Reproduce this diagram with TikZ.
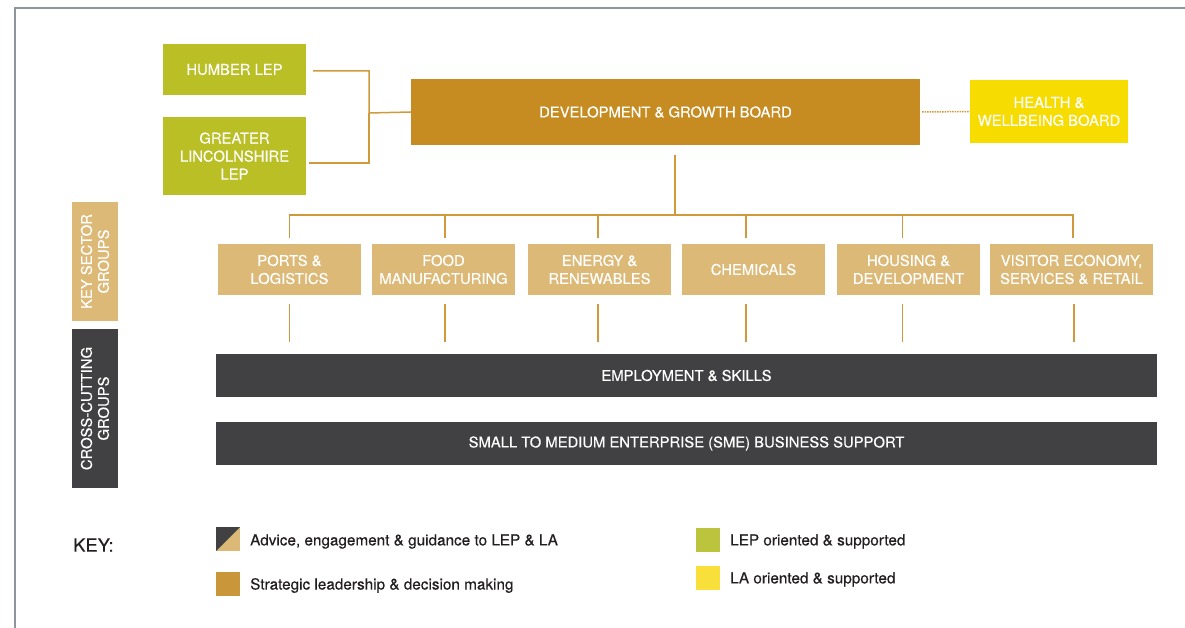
\documentclass[tikz,border=0pt]{standalone}
\usepackage{fontspec}
\setmainfont{TeX Gyre Heros}
\newfontfamily\heavyfont{TeX Gyre Heros}[FakeBold=0.35]
\definecolor{lepgreen}{HTML}{B9BF24}
\definecolor{sectortan}{HTML}{DCB977}
\definecolor{dgbgold}{HTML}{C68C22}
\definecolor{layellow}{HTML}{F7DC00}
\definecolor{darkgrey}{HTML}{414042}
\definecolor{connline}{HTML}{D09A3C}
\definecolor{framegrey}{HTML}{8E959C}
\definecolor{keytext}{HTML}{231F20}
\definecolor{keygold}{HTML}{C9973A}
\definecolor{keygreen}{HTML}{BCC33C}
\definecolor{keyyellow}{HTML}{F9DF3A}
\tikzset{
  box/.style={inner sep=0pt, align=center, text=white, font=\heavyfont\fontsize{14.8}{18}\selectfont},
  lepbox/.style={box, fill=lepgreen, minimum width=143, minimum height=51},
  sectorbox/.style={box, fill=sectortan, minimum width=143, minimum height=51},
  barbox/.style={box, fill=darkgrey, minimum width=941, minimum height=43},
  sidebox/.style={box, rotate=90, minimum height=46, font=\heavyfont\fontsize{14.8}{17}\selectfont},
  conn/.style={draw=connline, line width=1.5pt},
  dotconn/.style={draw=connline, line width=1.5pt, dash pattern=on 1.5pt off 1pt},
  keysq/.style={minimum size=24, inner sep=0pt},
  keylabel/.style={anchor=west, text=keytext, inner sep=0pt, font=\heavyfont\fontsize{15.3}{17}\selectfont}
}
\begin{document}
\begin{tikzpicture}[x=1pt,y=-1pt]
\useasboundingbox (0,0) rectangle (1185,628);
% frame
\draw[framegrey, line width=1.6pt] (1185,8) -- (15,8) -- (15,628);

% top boxes
\node[lepbox] (humber) at (234.5,69.5) {HUMBER LEP};
\node[lepbox, minimum height=78] (gl) at (234.5,156) {GREATER\\LINCOLNSHIRE\\LEP};
\node[box, fill=dgbgold, minimum width=509, minimum height=66] (dgb) at (665.5,112) {DEVELOPMENT \& GROWTH BOARD};
\node[box, fill=layellow, minimum width=158, minimum height=63] (health) at (1049,111.5) {HEALTH \&\\WELLBEING BOARD};

\coordinate (jx) at (369,113);
\draw[conn] ([xshift=7,yshift=-1.5]humber.east) -| (jx) -- (dgb.west);
\draw[conn] ([xshift=3,yshift=-7]gl.east) -| (jx);
\draw[dotconn] ([xshift=2]dgb.east) -- (health.west);

% sector boxes
\node[sectorbox] (s1) at (289.5,269.5) {PORTS \&\\LOGISTICS};
\node[sectorbox] (s2) at (443.5,269.5) {FOOD\\MANUFACTURING};
\node[sectorbox] (s3) at (599.5,269.5) {ENERGY \&\\RENEWABLES};
\node[sectorbox] (s4) at (753.5,269.5) {CHEMICALS};
\node[sectorbox] (s5) at (908.5,269.5) {HOUSING \&\\DEVELOPMENT};
\node[sectorbox, minimum width=163] (s6) at (1071.5,269.5) {VISITOR ECONOMY,\\SERVICES \& RETAIL};

% tree from board to sectors
\coordinate (bus) at (675,215);
\path (dgb.south -| bus) ++(0,10) coordinate (trunk);
\draw[conn] (trunk) -- (bus);
\draw[conn] ([yshift=6]s1.north) -- ++(0,-23) -| ([xshift=1.5,yshift=6]s6.north);
\draw[conn] ([xshift=1.5,yshift=6]s2.north) -- ++(0,-23);
\draw[conn] ([xshift=-1.5,yshift=6]s3.north) -- ++(0,-23);
\draw[conn] ([xshift=-7.5,yshift=6]s4.north) -- ++(0,-23);
\draw[conn] ([xshift=-6,yshift=6]s5.north) -- ++(0,-23);

% cross-cutting bars
\node[barbox] (emp) at (686.5,375.5) {EMPLOYMENT \& SKILLS};
\node[barbox] (sme) at (686.5,443.5) {SMALL TO MEDIUM ENTERPRISE (SME) BUSINESS SUPPORT};

% drops below sectors
\draw[conn] ([yshift=-9]s1.south) -- ++(0,38);
\draw[conn] ([xshift=1.5,yshift=-9]s2.south) -- ++(0,38);
\draw[conn] ([xshift=-1.5,yshift=-9]s3.south) -- ++(0,38);
\draw[conn] ([xshift=-7.5,yshift=-9]s4.south) -- ++(0,38);
\draw[conn] ([xshift=-6,yshift=-9]s5.south) -- ++(0,38);
\draw[conn] ([xshift=2.5,yshift=-9]s6.south) -- ++(0,38);

% side labels
\node[sidebox, fill=sectortan, minimum width=119] (keysector) at (95,261.5) {KEY SECTOR\\GROUPS};
\node[sidebox, fill=darkgrey, minimum width=159] (cross) at (95,408.5) {CROSS-CUTTING\\GROUPS};

% key
\node[anchor=west, inner sep=0pt, text=keytext, font=\heavyfont\fontsize{18.4}{20}\selectfont] (keyhead) at (73,545) {KEY:};
\node[keysq, fill=sectortan, path picture={\fill[darkgrey] (path picture bounding box.north west) -- (path picture bounding box.north east) -- (path picture bounding box.south west) -- cycle;}] (k1) at (228,539) {};
\node[keylabel] (k1t) at (250,541.5) {Advice, engagement \& guidance to LEP \& LA};
\node[keysq, fill=keygold] (k2) at (228,584) {};
\node[keylabel] (k2t) at (250,585.5) {Strategic leadership \& decision making};
\node[keysq, fill=keygreen] (k3) at (708,540) {};
\node[keylabel] (k3t) at (730,541.5) {LEP oriented \& supported};
\node[keysq, fill=keyyellow] (k4) at (708,578) {};
\node[keylabel] (k4t) at (730,579.5) {LA oriented \& supported};
\end{tikzpicture}
\end{document}
